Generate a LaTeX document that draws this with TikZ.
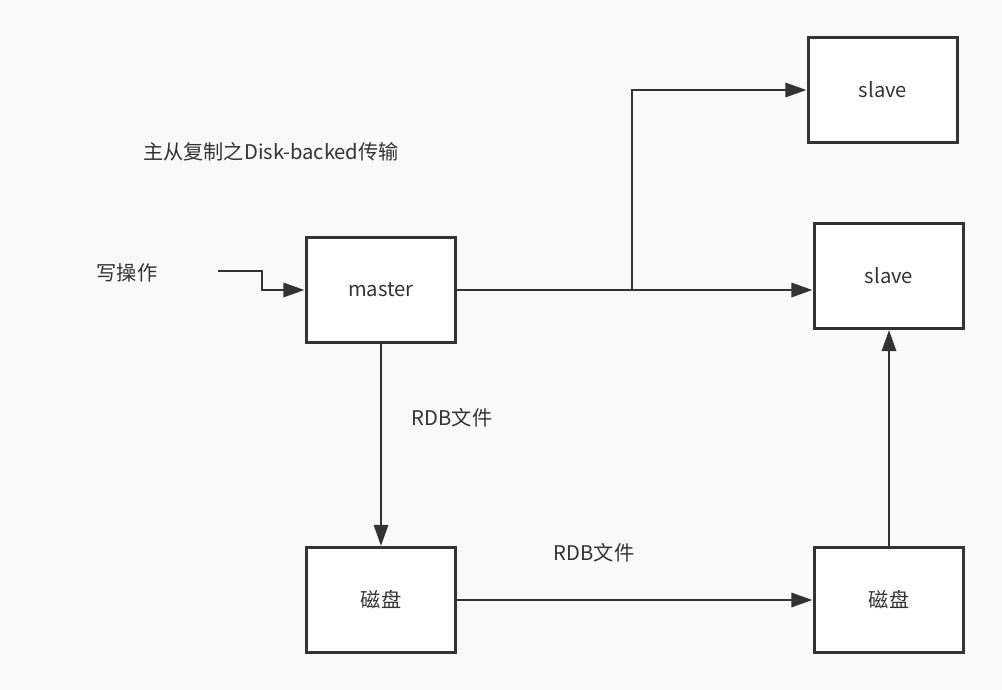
\documentclass[tikz,border=0pt]{standalone}
\usepackage{fontspec}
\setmainfont{Noto Sans CJK SC}
\usetikzlibrary{arrows.meta}
\definecolor{bg}{HTML}{F9F9F9}
\definecolor{ink}{HTML}{333333}
\tikzset{
  box/.style={draw=ink, fill=white, line width=1.7pt, minimum width=3cm, minimum height=2.1cm, font=\fontsize{11.5}{13}\selectfont, text=ink},
  lbl/.style={font=\fontsize{11.5}{13}\selectfont, text=ink},
  arr/.style={draw=ink, line width=1.7pt, -{Triangle[length=12pt,width=8pt]}},
  ln/.style={draw=ink, line width=1.7pt}
}
\begin{document}
\begin{tikzpicture}[x=0.02cm, y=-0.02cm]
    \fill[bg] (0,0) rectangle (1002,690);
    \useasboundingbox (0,0) rectangle (1002,690);
    \node[lbl] (title) at (271,152) {主从复制之Disk-backed传输};
    \node[lbl] (write) at (127,273) {写操作};
    \node[box] (master) at (381,290) {master};
    \node[box] (slaveA) at (883,90) {slave};
    \node[box] (slaveB) at (889,276) {slave};
    \node[box] (diskA) at (381,600) {磁盘};
    \node[box] (diskB) at (889,600) {磁盘};
    \coordinate (wstart) at (218,271);
    \coordinate (split) at (632,290);
    % write into master
    \draw[arr] (wstart) -- (262,271) -- (262,290) -- (master.west);
    % master to the two slaves
    \draw[ln] (master.east) -- (split);
    \draw[arr] (split) |- (slaveA.west);
    \draw[arr] (split) -- (split -| slaveB.west);
    % rdb file
    \draw[arr] (master.south) -- (diskA.north);
    \node[lbl] (rdbA) at (452,418) {RDB文件};
    \draw[arr] (diskA.east) -- (diskB.west);
    \node[lbl] (rdbB) at (594,553) {RDB文件};
    \draw[arr] (diskB.north) -- (slaveB.south);
\end{tikzpicture}
\end{document}
